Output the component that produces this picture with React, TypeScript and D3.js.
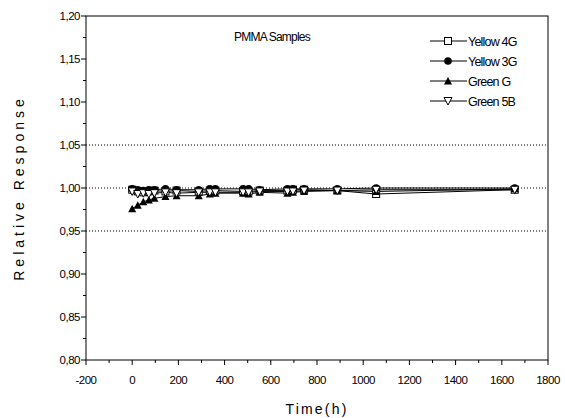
import React from "react";
import * as d3 from "d3";

const times = [0, 24, 48, 72, 96, 144, 192, 288, 336, 360, 480, 504, 552, 672, 696, 744, 888, 1056, 1656];
const yellow4G = [0.998, 0.996, 0.995, 0.996, 0.997, 0.996, 0.997, 0.996, 0.997, 0.997, 0.996, 0.996, 0.997, 0.997, 0.998, 0.998, 0.997, 0.993, 0.998];
const yellow3G = [0.999, 0.998, 0.997, 0.998, 0.998, 0.999, 0.998, 0.998, 0.999, 0.999, 0.999, 0.999, 0.998, 0.999, 0.999, 0.999, 0.999, 1.0, 1.0];
const greenG = [0.976, 0.980, 0.984, 0.986, 0.988, 0.990, 0.991, 0.991, 0.993, 0.994, 0.994, 0.993, 0.995, 0.994, 0.995, 0.996, 0.997, 0.996, 0.999];
const green5B = [0.996, 0.993, 0.994, 0.993, 0.994, 0.995, 0.994, 0.995, 0.995, 0.995, 0.995, 0.995, 0.996, 0.996, 0.996, 0.997, 0.997, 0.998, 0.998];

const seriesNames = ["Yellow 4G", "Yellow 3G", "Green G", "Green 5B"];
const seriesData = [yellow4G, yellow3G, greenG, green5B];
const markerTypes = ["square", "circle", "triUp", "triDown"];

const xTicks = [-200, 0, 200, 400, 600, 800, 1000, 1200, 1400, 1600, 1800];
const yTicks = [0.8, 0.85, 0.9, 0.95, 1.0, 1.05, 1.1, 1.15, 1.2];
const refLines = [0.95, 1.0, 1.05];

const L = 86, R = 548, T = 16, B = 360;

function Marker({ type, x, y }: { type: string; x: number; y: number }) {
  const s = 3.5;
  if (type === "square")
    return <rect x={x - s} y={y - s} width={2 * s} height={2 * s} fill="#fff" stroke="#000" strokeWidth={1} />;
  if (type === "circle") return <circle cx={x} cy={y} r={s + 0.3} fill="#000" />;
  if (type === "triUp")
    return <path d={`M${x},${y - s - 0.5}L${x + s + 0.5},${y + s}L${x - s - 0.5},${y + s}Z`} fill="#000" />;
  return <path d={`M${x},${y + s + 0.5}L${x + s + 0.5},${y - s}L${x - s - 0.5},${y - s}Z`} fill="#fff" stroke="#000" strokeWidth={1} />;
}

export default function App() {
  const x = d3.scaleLinear().domain([-200, 1800]).range([L, R]);
  const y = d3.scaleLinear().domain([0.8, 1.2]).range([B, T]);
  const line = d3.line<number>().x((_, i) => x(times[i])).y((d) => y(d));
  const font = "'Liberation Sans', Arial, sans-serif";
  const xMinor = d3.range(-200, 1801, 100);
  const yMinor = d3.range(0, 17).map((i) => 0.8 + i * 0.025);

  return (
    <svg width={565} height={418} style={{ position: "absolute", left: 0, top: 0 }} fontFamily={font}>
      <rect width={565} height={418} fill="#fff" />
      {refLines.map((v) => (
        <line key={v} x1={L} x2={R} y1={y(v)} y2={y(v)} stroke="#000" strokeWidth={1} strokeDasharray="1,2" />
      ))}
      <rect x={L} y={T} width={R - L} height={B - T} fill="none" stroke="#000" strokeWidth={1} />
      {xMinor.map((v, i) => (
        <line key={"xm" + i} x1={x(v)} x2={x(v)} y1={B} y2={B + (i % 2 === 0 ? 5 : 3)} stroke="#000" />
      ))}
      {yMinor.map((v, i) => (
        <line key={"ym" + i} x1={L - (i % 2 === 0 ? 5 : 3)} x2={L} y1={y(v)} y2={y(v)} stroke="#000" />
      ))}
      {xTicks.map((v) => (
        <text key={"xt" + v} x={x(v)} y={384} textAnchor="middle" fontSize={11.5} letterSpacing={-0.5}>
          {v}
        </text>
      ))}
      {yTicks.map((v) => (
        <text key={"yt" + v} x={80} y={y(v) + 4} textAnchor="end" fontSize={11.5} letterSpacing={-0.5}>
          {v.toFixed(2).replace(".", ",")}
        </text>
      ))}
      <text x={317} y={414} textAnchor="middle" fontSize={14} letterSpacing={2.2}>
        Time(h)
      </text>
      <text transform={`translate(24,${(T + B) / 2}) rotate(-90)`} textAnchor="middle" fontSize={14} letterSpacing={4}>
        Relative Response
      </text>
      <text x={272} y={41} textAnchor="middle" fontSize={12} letterSpacing={-0.8}>
        PMMA Samples
      </text>
      {seriesData.map((d, si) => (
        <path key={"l" + si} d={line(d) || ""} fill="none" stroke="#000" strokeWidth={1} />
      ))}
      {seriesData.map((d, si) =>
        d.map((v, i) => <Marker key={si + "-" + i} type={markerTypes[si]} x={x(times[i])} y={y(v)} />)
      )}
      {seriesNames.map((n, i) => {
        const ly = 41 + i * 20;
        return (
          <g key={n}>
            <line x1={430} x2={467} y1={ly} y2={ly} stroke="#000" />
            <Marker type={markerTypes[i]} x={448} y={ly} />
            <text x={468} y={ly + 4.5} fontSize={12.5} letterSpacing={-0.8}>
              {n}
            </text>
          </g>
        );
      })}
    </svg>
  );
}
